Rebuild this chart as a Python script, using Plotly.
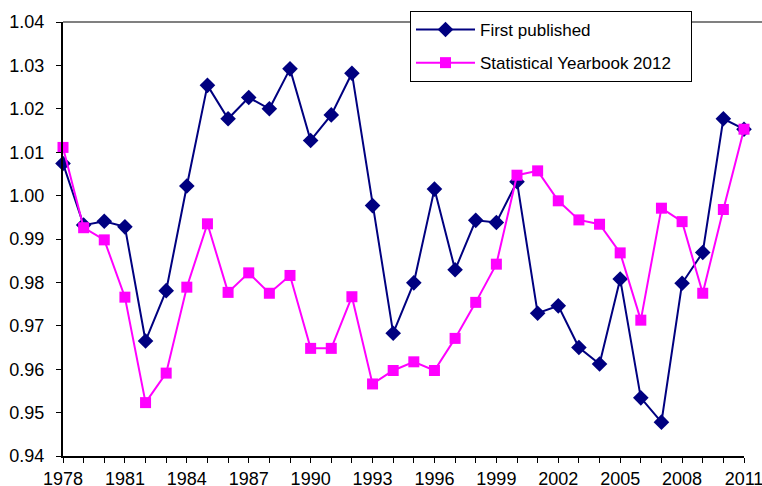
import plotly.graph_objects as go

years = list(range(1978, 2012))

first_published = [
    1.0074, 0.9932, 0.9941, 0.9928, 0.9665, 0.9781, 1.0022, 1.0254, 1.0177, 1.0226,
    1.0200, 1.0292, 1.0127, 1.0186, 1.0282, 0.9977, 0.9683, 0.9799, 1.0015, 0.9829,
    0.9943, 0.9938, 1.0032, 0.9729, 0.9746, 0.9650, 0.9612, 0.9808, 0.9534, 0.9478,
    0.9798, 0.9869, 1.0177, 1.0153,
]

yearbook_2012 = [
    1.0111, 0.9926, 0.9898, 0.9766, 0.9523, 0.9591, 0.9789, 0.9935, 0.9777, 0.9822,
    0.9775, 0.9816, 0.9648, 0.9648, 0.9767, 0.9566, 0.9597, 0.9617, 0.9597, 0.9671,
    0.9754, 0.9842, 1.0047, 1.0057, 0.9988, 0.9944, 0.9934, 0.9868, 0.9713, 0.9971,
    0.9940, 0.9775, 0.9968, 1.0153,
]

y_ticks = [0.94, 0.95, 0.96, 0.97, 0.98, 0.99, 1.00, 1.01, 1.02, 1.03, 1.04]
x_ticks = list(range(1978, 2012, 3))

fig = go.Figure()

fig.add_trace(go.Scatter(
    x=years, y=first_published, name="First published",
    mode="lines+markers", legendgroup="a",
    line=dict(color="#000080", width=2),
    marker=dict(symbol="diamond", size=12, color="#000080"),
    cliponaxis=False,
))
fig.add_trace(go.Scatter(
    x=years, y=yearbook_2012, name="Statistical Yearbook 2012\u00a0\u00a0\u00a0",
    mode="lines+markers", legendgroup="b",
    line=dict(color="#FF00FF", width=2),
    marker=dict(symbol="square", size=11, color="#FF00FF"),
    cliponaxis=False,
))

fig.update_layout(
    width=762, height=486,
    margin=dict(l=63, r=18, t=22, b=30, autoexpand=False),
    plot_bgcolor="white", paper_bgcolor="white",
    font=dict(family="Liberation Sans, Arial, sans-serif", size=18, color="black"),
    showlegend=True,
    legend=dict(
        x=410 / 762, y=1 - 11 / 486, xref="container", yref="container",
        xanchor="left", yanchor="top",
        bordercolor="black", borderwidth=1, bgcolor="white",
        font=dict(size=17), tracegroupgap=8, itemwidth=59,
    ),
    xaxis=dict(
        range=[1978, 2011], tickvals=x_ticks, ticktext=[str(v) for v in x_ticks],
        showgrid=False, zeroline=False, automargin=False,
        showline=True, linecolor="black", linewidth=2,
        ticks="outside", ticklen=5, tickcolor="black", tickwidth=1,
        ticklabeloverflow="allow",
        minor=dict(dtick=1, tick0=1978, ticks="outside", ticklen=5, tickcolor="black"),
    ),
    yaxis=dict(
        range=[0.94, 1.04], tickvals=y_ticks, ticktext=[f"{v:.2f}" for v in y_ticks],
        showgrid=False, zeroline=False, automargin=False,
        showline=True, linecolor="black", linewidth=2,
        ticks="outside", ticklen=5, tickcolor="black", tickwidth=1,
        ticklabelstandoff=8,
    ),
)

# grey frame line along the top of the plot area
fig.add_shape(type="line", xref="paper", yref="paper", x0=0, x1=1.03, y0=1, y1=1,
              line=dict(color="#808080", width=2), layer="below")

# drop the browser's default 8px body margin so the figure fills the window
fig.write_html("out.html", config={"displayModeBar": False},
               post_script="document.body.style.margin='0';")
